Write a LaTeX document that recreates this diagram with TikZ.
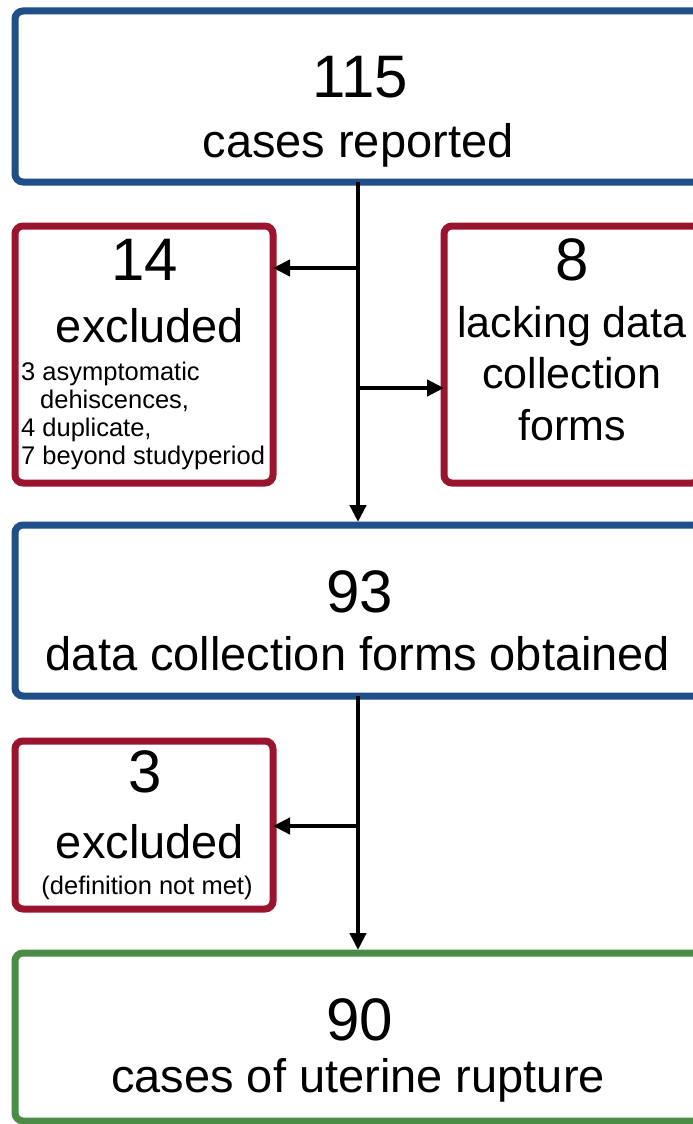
\documentclass[tikz,border=0pt]{standalone}
\usepackage{fontspec}
\setmainfont{Liberation Sans}
\usetikzlibrary{arrows.meta}
\definecolor{boxblue}{RGB}{31,78,137}
\definecolor{boxred}{RGB}{155,20,45}
\definecolor{boxgreen}{RGB}{75,140,70}
\begin{document}
\begin{tikzpicture}[x=1pt,y=-1pt,
  box/.style={draw,line width=7pt,rounded corners=8pt,inner sep=0pt,outer sep=0pt},
  arr/.style={line width=4.5pt,-{Triangle[length=17pt,width=16pt]}},
  big/.style={font=\fontsize{60}{62}\selectfont,anchor=base,inner sep=0pt},
  mid/.style={font=\fontsize{47}{50}\selectfont,anchor=base,inner sep=0pt},
  midr/.style={font=\fontsize{43}{48}\selectfont,anchor=base,inner sep=0pt},
  small/.style={font=\fontsize{25.5}{28}\selectfont,anchor=base west,inner sep=0pt},
]
\useasboundingbox (0,0) rectangle (693,1124);
\clip (0,0) rectangle (693,1124);
\fill[white] (0,0) rectangle (693,1124);
% boxes
\node[box,draw=boxblue,minimum width=690pt,minimum height=171pt] (n115) at (360,96.5) {};
\node[box,draw=boxred,minimum width=258pt,minimum height=257pt] (ex14) at (144,354.5) {};
\node[box,draw=boxred,minimum width=256pt,minimum height=257pt] (lack8) at (572,354.5) {};
\node[box,draw=boxblue,minimum width=690pt,minimum height=171pt] (n93) at (360,610.5) {};
\node[box,draw=boxred,minimum width=258pt,minimum height=168pt] (ex3) at (144,825) {};
\node[box,draw=boxgreen,minimum width=690pt,minimum height=168pt] (n90) at (360,1037) {};
% texts
\node[big] (t115) at (360,97) {115};
\node[mid] (t115b) at (358,157) {cases reported};
\node[big] (t14) at (145,280) {14};
\node[mid] (t14b) at (150,342) {excluded};
\node[small] (s1) at (21,380) {3 asymptomatic};
\node[small] (s2) at (40,408) {dehiscences,};
\node[small] (s3) at (21,436) {4 duplicate,};
\node[small] (s4) at (21,464) {7 beyond studyperiod};
\node[big] (t8) at (572,280) {8};
\node[midr] (t8b) at (572,337) {lacking data};
\node[midr] (t8c) at (572,388) {collection};
\node[midr] (t8d) at (572,440) {forms};
\node[big] (t93) at (360,612) {93};
\node[mid] (t93b) at (358,670) {data collection forms obtained};
\node[big] (t3) at (145,792) {3};
\node[mid] (t3b) at (150,858) {excluded};
\node[small,anchor=base] (t3c) at (147,894) {(definition not met)};
\node[big] (t90) at (360,1040) {90};
\node[mid] (t90b) at (358,1092) {cases of uterine rupture};
% connectors
\coordinate (b1) at (358,268);
\coordinate (b2) at (358,388);
\coordinate (b3) at (358,826);
\draw[arr,shorten >=3pt] (n115.south -| b1) -- (n93.north -| b1);
\draw[arr] (b1) -- (b1 -| ex14.east);
\draw[arr] (b2) -- (b2 -| lack8.west);
\draw[arr,shorten >=3pt] (n93.south -| b3) -- (n90.north -| b3);
\draw[arr] (b3) -- (b3 -| ex3.east);
\end{tikzpicture}
\end{document}
